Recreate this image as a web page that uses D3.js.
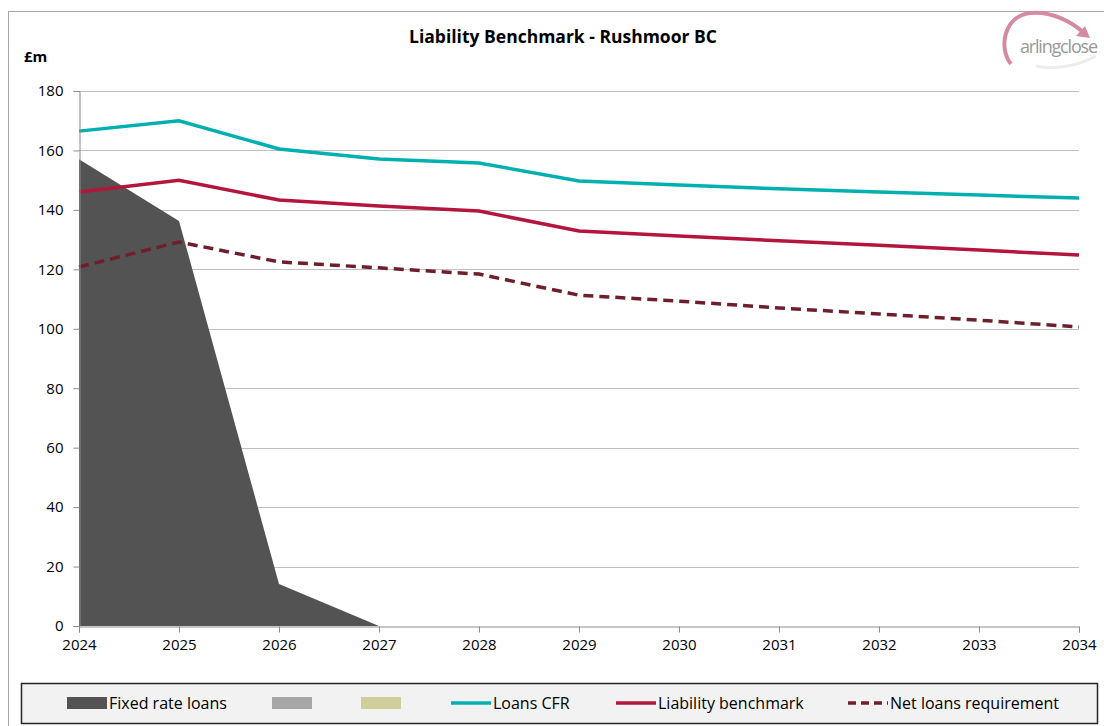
<!DOCTYPE html>
<html>
<head>
  <meta charset="utf-8">
  <title>Liability Benchmark</title>
  <script src="https://d3js.org/d3.v7.min.js"></script>
  <style>
    body { margin: 0; background: #fff; }
    text { font-family: "Open Sans", "Noto Sans", sans-serif; fill: #000; }
  </style>
</head>
<body>
  <div id="chart"></div>
  <script type="text/javascript">

    // Data
    var years = [2024, 2025, 2026, 2027, 2028, 2029, 2030, 2031, 2032, 2033, 2034];
    var fixedRateLoans = [157, 136.3, 14.1, 0, 0, 0, 0, 0, 0, 0, 0];
    var loansCFR = [166.5, 170, 160.5, 157.1, 155.8, 149.7, 148.4, 147.1, 146, 145, 144];
    var liabilityBenchmark = [146, 150, 143.3, 141.3, 139.6, 132.9, 131.2, 129.6, 128.1, 126.5, 124.8];
    var netLoansRequirement = [120.8, 129.2, 122.5, 120.5, 118.4, 111.3, 109.3, 107, 105, 102.9, 100.6];
    var yTicks = [0, 20, 40, 60, 80, 100, 120, 140, 160, 180];
    var legendLabels = ['Fixed rate loans', '', '', 'Loans CFR', 'Liability benchmark', 'Net loans requirement'];

    var W = 1104, H = 726;
    var margin = {top: 91, right: 25, bottom: 100, left: 79};
    var width = 1079 - margin.left;
    var height = 626 - margin.top;

    var svg = d3.select('#chart')
                .append('svg')
                  .attr('width', W)
                  .attr('height', H);

    // outer chart border (partly off-page)
    svg.append('rect')
         .attr('x', 8.5).attr('y', 11.5)
         .attr('width', W + 20).attr('height', H + 20)
         .style('fill', 'none')
         .style('stroke', '#a6a6a6')
         .style('stroke-width', 1);

    var g = svg.append('g')
                 .attr('transform', 'translate(' + margin.left + ',' + margin.top + ')');

    var x = d3.scaleLinear().domain([2024, 2034]).range([0, width]);
    var y = d3.scaleLinear().domain([0, 180]).range([height, 0]);

    // gridlines
    g.selectAll('.grid')
       .data(yTicks.filter(function(d) { return d > 0; }))
       .enter().append('line')
         .attr('class', 'grid')
         .attr('x1', 0).attr('x2', width)
         .attr('y1', function(d) { return Math.round(y(d)) + 0.5; })
         .attr('y2', function(d) { return Math.round(y(d)) + 0.5; })
         .style('stroke', '#bfbfbf')
         .style('stroke-width', 1);

    // fixed rate loans area
    var area = d3.area()
                 .x(function(d, i) { return x(years[i]); })
                 .y0(y(0))
                 .y1(function(d) { return y(d); });

    g.append('path')
       .attr('d', area(fixedRateLoans))
       .style('fill', '#535353');

    var line = d3.line()
                 .x(function(d, i) { return x(years[i]); })
                 .y(function(d) { return y(d); });

    g.append('path')
       .attr('d', line(loansCFR))
       .style('fill', 'none')
       .style('stroke', '#00b0b0')
       .style('stroke-width', 3.5);

    g.append('path')
       .attr('d', line(liabilityBenchmark))
       .style('fill', 'none')
       .style('stroke', '#b3153d')
       .style('stroke-width', 3.5);

    g.append('path')
       .attr('d', line(netLoansRequirement))
       .style('fill', 'none')
       .style('stroke', '#6e1f2b')
       .style('stroke-width', 3.5)
       .style('stroke-dasharray', '10,6');

    // axes
    var yAxis = d3.axisLeft(y).tickValues(yTicks).tickSize(6).tickPadding(10);
    var xAxis = d3.axisBottom(x).tickValues(years).tickFormat(d3.format('d')).tickSize(6).tickPadding(7);

    var yg = g.append('g').attr('transform', 'translate(0.5,0)').call(yAxis);
    yg.select('.domain').style('stroke', '#8c8c8c');
    yg.selectAll('.tick line').style('stroke', '#8c8c8c');
    yg.selectAll('.tick text').style('font-size', '15px').style('fill', '#000');

    var xg = g.append('g').attr('transform', 'translate(0,' + (height + 0.5) + ')').call(xAxis);
    xg.select('.domain').style('stroke', '#8c8c8c');
    xg.selectAll('.tick line').style('stroke', '#8c8c8c');
    xg.selectAll('.tick text').style('font-size', '15px').style('fill', '#000');

    // titles
    svg.append('text')
         .text('Liability Benchmark - Rushmoor BC')
         .attr('x', 563).attr('y', 43)
         .attr('text-anchor', 'middle')
         .style('font-size', '17.5px')
         .style('font-weight', 'bold');

    svg.append('text')
         .text('£m')
         .attr('x', 24).attr('y', 62)
         .style('font-size', '15px')
         .style('font-weight', 'bold');

    // logo
    var logo = svg.append('g');
    logo.append('path')
          .attr('d', 'M 1011 64 C 998 48 1004 16 1030 13 C 1052 11 1072 22 1084 33')
          .style('fill', 'none')
          .style('stroke', '#d48aa0')
          .style('stroke-width', 4);
    logo.append('path')
          .attr('d', 'M 1090 38 L 1076 36 L 1085 26 Z')
          .style('fill', '#d48aa0');
    logo.append('path')
          .attr('d', 'M 1036 66 C 1055 70 1078 66 1096 56')
          .style('fill', 'none')
          .style('stroke', '#ececec')
          .style('stroke-width', 3);
    logo.append('text')
          .text('arlingclose')
          .attr('x', 1020).attr('y', 53)
          .attr('textLength', 78)
          .style('font-size', '18px')
          .style('fill', '#999999');

    // legend
    svg.append('rect')
         .attr('x', 21.5).attr('y', 683.5)
         .attr('width', 1076).attr('height', 40)
         .style('fill', '#f2f2f2')
         .style('stroke', '#262626')
         .style('stroke-width', 1.5);

    var legendX = [67, 272, 361, 451, 616, 848];
    var legendKinds = ['swatch', 'swatch', 'swatch', 'line', 'line', 'dash'];
    var legendColors = ['#535353', '#a6a6a6', '#cfcf9b', '#00b0b0', '#b3153d', '#6e1f2b'];

    var items = svg.selectAll('.legend-item')
                   .data(legendLabels)
                   .enter().append('g')
                     .attr('class', 'legend-item')
                     .attr('transform', function(d, i) { return 'translate(' + legendX[i] + ',703)'; });

    items.each(function(d, i) {
      var it = d3.select(this);
      if (legendKinds[i] === 'swatch') {
        it.append('rect')
            .attr('x', 0).attr('y', -6)
            .attr('width', 40).attr('height', 12)
            .style('fill', legendColors[i]);
      } else {
        it.append('line')
            .attr('x1', 0).attr('x2', 40)
            .attr('y1', 0).attr('y2', 0)
            .style('stroke', legendColors[i])
            .style('stroke-width', 3.5)
            .style('stroke-dasharray', legendKinds[i] === 'dash' ? '8,5' : null);
      }
      it.append('text')
          .text(d)
          .attr('x', 42).attr('y', 6)
          .style('font-size', '16px');
    });

  </script>
</body>
</html>
